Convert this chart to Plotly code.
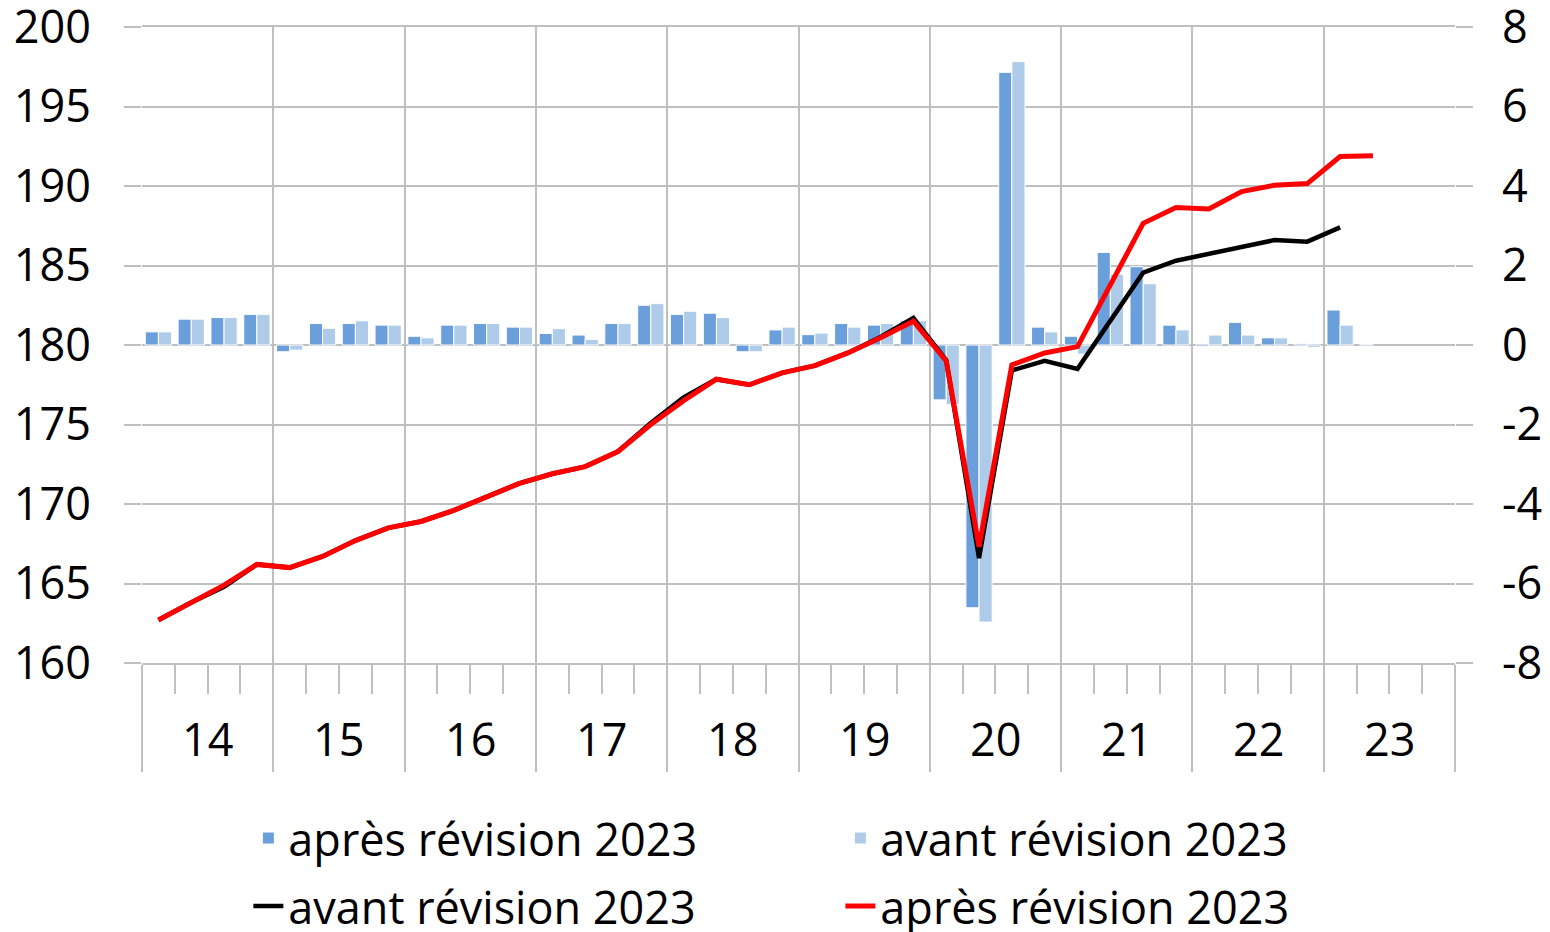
import plotly.graph_objects as go

# trimestres 2014T1 -> 2023T4
years = ["14", "15", "16", "17", "18", "19", "20", "21", "22", "23"]
quarters = list(range(40))

# glissement trimestriel (%), axe de droite
bars_apres = [0.33, 0.65, 0.69, 0.77,
              -0.17, 0.54, 0.54, 0.50,
              0.22, 0.50, 0.54, 0.45,
              0.29, 0.25, 0.54, 1.00,
              0.77, 0.80, -0.17, 0.38,
              0.26, 0.54, 0.50, 0.61,
              -1.38, -6.61, 6.86, 0.45,
              0.22, 2.33, 1.97, 0.50,
              -0.04, 0.57, 0.18, 0.03,
              0.88, 0.02, None, None]
bars_avant = [0.33, 0.65, 0.69, 0.77,
              -0.13, 0.42, 0.61, 0.50,
              0.18, 0.50, 0.54, 0.45,
              0.41, 0.14, 0.54, 1.04,
              0.85, 0.69, -0.17, 0.45,
              0.30, 0.45, 0.54, 0.61,
              -1.50, -6.97, 7.13, 0.33,
              -0.23, 1.78, 1.54, 0.38,
              0.25, 0.25, 0.18, -0.06,
              0.50, None, None, None]

# niveaux, axe de gauche
line_avant = [162.7, 163.8, 164.8, 166.2,
              166.0, 166.7, 167.7, 168.5,
              168.9, 169.6, 170.45, 171.3,
              171.9, 172.35, 173.3, 175.1,
              176.7, 177.85, 177.5, 178.25,
              178.7, 179.5, 180.5, 181.7,
              179.05, 166.6, 178.4, 179.0,
              178.5, 181.5, 184.55, 185.3,
              185.75, 186.2, 186.6, 186.5,
              187.4, None, None, None]
line_apres = [162.7, 163.8, 164.9, 166.2,
              166.0, 166.7, 167.7, 168.5,
              168.9, 169.6, 170.45, 171.3,
              171.9, 172.35, 173.3, 175.0,
              176.5, 177.85, 177.5, 178.25,
              178.7, 179.5, 180.45, 181.5,
              179.0, 167.3, 178.75, 179.5,
              179.9, 183.8, 187.65, 188.65,
              188.55, 189.65, 190.05, 190.15,
              191.85, 191.9, None, None]

right_ticks = [-8, -6, -4, -2, 0, 2, 4, 6, 8]
right_labels = ["-8", "-6", "-4", "-2", "0", "2", "4", "6", "8"]

FONT = "Open Sans"
FS = 45
GRID = "#BFBFBF"

fig = go.Figure()
fig.add_trace(go.Bar(x=quarters, y=bars_apres, name="après révision 2023",
                     marker=dict(color="#6A9FDB", line=dict(color="white", width=1)),
                     yaxis="y", legend="legend"))
fig.add_trace(go.Bar(x=quarters, y=bars_avant, name="avant révision 2023",
                     marker=dict(color="#AECBE9", line=dict(color="white", width=1)),
                     yaxis="y", legend="legend"))
fig.add_trace(go.Scatter(x=quarters, y=line_avant, name="avant révision 2023",
                         mode="lines", line=dict(color="black", width=4.5),
                         yaxis="y2", legend="legend2"))
fig.add_trace(go.Scatter(x=quarters, y=line_apres, name="après révision 2023",
                         mode="lines", line=dict(color="#FF0000", width=5),
                         yaxis="y2", legend="legend2"))

# libellés des années sous l'axe
for i, yr in enumerate(years):
    fig.add_annotation(x=i * 4 + 1.5, y=0, xref="x", yref="paper",
                       text=yr, showarrow=False, yanchor="middle", yshift=-75,
                       font=dict(family=FONT, size=FS, color="black"))

leg = dict(orientation="h", x=0.081, xanchor="left", yanchor="top",
           entrywidth=547, entrywidthmode="pixels",
           font=dict(family=FONT, size=FS, color="black"), traceorder="normal",
           bgcolor="rgba(0,0,0,0)")

fig.update_layout(
    width=1542, height=924,
    margin=dict(l=134, r=95, t=19, b=269, autoexpand=False),
    paper_bgcolor="white", plot_bgcolor="white",
    barmode="group", bargap=0.2, bargroupgap=0,
    font=dict(family=FONT, size=FS, color="black"),
    showlegend=True,
    legend=dict(leg, y=-0.219),
    legend2=dict(leg, y=-0.326),
    xaxis=dict(range=[-0.5, 39.5], tickmode="array",
               tickvals=[i * 4 - 0.5 for i in range(len(years) + 1)],
               ticktext=["" for _ in range(len(years) + 1)],
               showgrid=True, gridcolor=GRID, gridwidth=2,
               ticks="outside", ticklen=107, tickwidth=2, tickcolor=GRID,
               minor=dict(tickmode="linear", tick0=-0.5, dtick=1, ticks="outside",
                          ticklen=29, tickwidth=2, tickcolor=GRID, showgrid=False),
               showline=True, mirror=True, linecolor=GRID, linewidth=2,
               zeroline=False, fixedrange=True),
    yaxis=dict(range=[-8, 8], side="right", tickmode="array",
               tickvals=right_ticks, ticktext=right_labels,
               showgrid=True, gridcolor=GRID, gridwidth=2,
               ticks="outside", ticklen=17, tickwidth=2, tickcolor=GRID,
               zeroline=False, showline=False, ticklabeloverflow="allow",
               ticklabelstandoff=20,
               tickfont=dict(family=FONT, size=FS)),
    yaxis2=dict(range=[160, 200], dtick=5, side="left", overlaying="y",
                showgrid=False, ticks="outside", ticklen=17, tickwidth=2,
                tickcolor=GRID, zeroline=False, showline=False,
                ticklabeloverflow="allow", ticklabelstandoff=24,
                tickfont=dict(family=FONT, size=FS)),
)

fig.write_html("out.html")
